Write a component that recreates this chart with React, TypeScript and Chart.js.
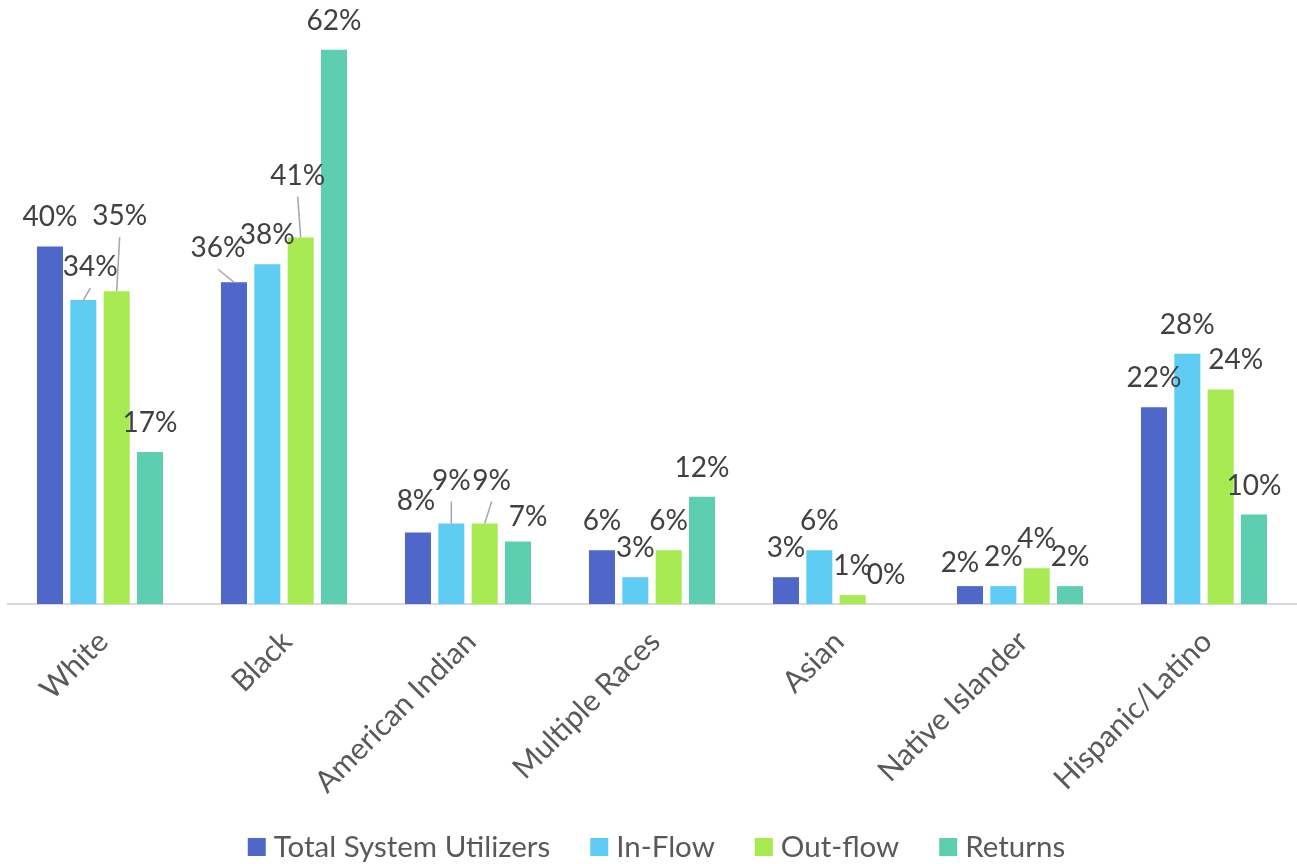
import React, { useEffect, useRef } from "react";
import { Chart, registerables } from "chart.js";

Chart.register(...registerables);

// ---------- data ----------
const categories = [
  "White",
  "Black",
  "American Indian",
  "Multiple Races",
  "Asian",
  "Native Islander",
  "Hispanic/Latino",
];
const seriesNames = ["Total System Utilizers", "In-Flow", "Out-flow", "Returns"];
const totalSystemUtilizers = [40, 36, 8, 6, 3, 2, 22];
const inFlow = [34, 38, 9, 3, 6, 2, 28];
const outFlow = [35, 41, 9, 6, 1, 4, 24];
const returnsValues = [17, 62, 7, 12, 0, 2, 10];
const seriesColors = ["#4E67C8", "#5ECCF3", "#A7EA52", "#5DCEAF"];

// manual nudges of some data labels (as in the original): [dataset, category, dx, dy, leaderLine]
const labelNudges: [number, number, number, number, boolean][] = [
  [1, 0, 7, -4, true],
  [2, 0, 3, -46, true],
  [0, 1, -16, -5, true],
  [2, 1, -3, -33, true],
  [0, 2, -2, -2, false],
  [1, 2, 0, -14, true],
  [2, 2, 7, -14, true],
  [3, 2, 10, 5, false],
  [0, 5, -10, 6, false],
  [2, 6, 15, 0, false],
];

const FONT = "Lato";

const dataLabelPlugin = {
  id: "dataLabels",
  afterDatasetsDraw(chart: any) {
    const ctx = chart.ctx;
    ctx.save();
    ctx.font = `28px ${FONT}`;
    ctx.textAlign = "center";
    ctx.textBaseline = "alphabetic";
    chart.data.datasets.forEach((ds: any, di: number) => {
      const meta = chart.getDatasetMeta(di);
      meta.data.forEach((bar: any, i: number) => {
        const v = ds.data[i];
        const n = labelNudges.find((q) => q[0] === di && q[1] === i);
        const dx = n ? n[2] : 0;
        const dy = n ? n[3] : 0;
        const cx = bar.x + dx;
        const cy = bar.y - 30 + dy;
        if (n && n[4]) {
          ctx.strokeStyle = "#A6A6A6";
          ctx.lineWidth = 1.5;
          ctx.beginPath();
          ctx.moveTo(cx, cy + 22);
          ctx.lineTo(bar.x, bar.y);
          ctx.stroke();
        }
        ctx.fillStyle = "#404040";
        ctx.fillText(`${v}%`, cx, cy + 10);
      });
    });
    ctx.restore();
  },
};

const legendPlugin = {
  id: "customLegend",
  afterDraw(chart: any) {
    const ctx = chart.ctx;
    ctx.save();
    ctx.font = `29.5px ${FONT}`;
    ctx.textBaseline = "alphabetic";
    ctx.textAlign = "left";
    const box = 18;
    const gap = 8;
    const spacing = 40;
    const widths = seriesNames.map((s) => ctx.measureText(s).width);
    const total =
      widths.reduce((a, w) => a + box + gap + w, 0) + spacing * (seriesNames.length - 1);
    let x = 656.5 - total / 2;
    const boxTop = 838;
    seriesNames.forEach((s, i) => {
      ctx.fillStyle = seriesColors[i];
      ctx.fillRect(x, boxTop, box, box);
      ctx.fillStyle = "#595959";
      ctx.fillText(s, x + box + gap, boxTop + 19);
      x += box + gap + widths[i] + spacing;
    });
    ctx.restore();
  },
};

export default function App() {
  const canvasRef = useRef<HTMLCanvasElement | null>(null);

  useEffect(() => {
    document.body.style.margin = "0";
    const canvas = canvasRef.current;
    if (!canvas) return;
    const values = [totalSystemUtilizers, inFlow, outFlow, returnsValues];
    const chart = new Chart(canvas, {
      type: "bar",
      data: {
        labels: categories,
        datasets: seriesNames.map((name, i) => ({
          label: name,
          data: values[i],
          backgroundColor: seriesColors[i],
          borderWidth: 0,
          categoryPercentage: 0.725,
          barPercentage: 0.78,
        })),
      },
      options: {
        animation: false,
        responsive: false,
        maintainAspectRatio: false,
        layout: { padding: { left: 8, right: 1, top: 23, bottom: 0 } },
        plugins: {
          legend: { display: false },
          tooltip: { enabled: false },
        },
        scales: {
          x: {
            grid: { display: false, drawTicks: false },
            border: { display: true, color: "#D9D9D9", width: 2 },
            ticks: {
              autoSkip: false,
              maxRotation: 45,
              minRotation: 45,
              padding: 20,
              labelOffset: 3,
              color: "#595959",
              font: { family: FONT, size: 30 },
            },
            afterFit(scale: any) {
              scale.height = 260;
            },
          },
          y: {
            display: false,
            min: 0,
            max: 65,
          },
        },
      },
      plugins: [dataLabelPlugin, legendPlugin],
    });
    return () => chart.destroy();
  }, []);

  return (
    <div style={{ width: 1297, height: 864, background: "#ffffff" }}>
      <canvas
        ref={canvasRef}
        width={1297}
        height={864}
        style={{ display: "block", width: 1297, height: 864 }}
      />
    </div>
  );
}
